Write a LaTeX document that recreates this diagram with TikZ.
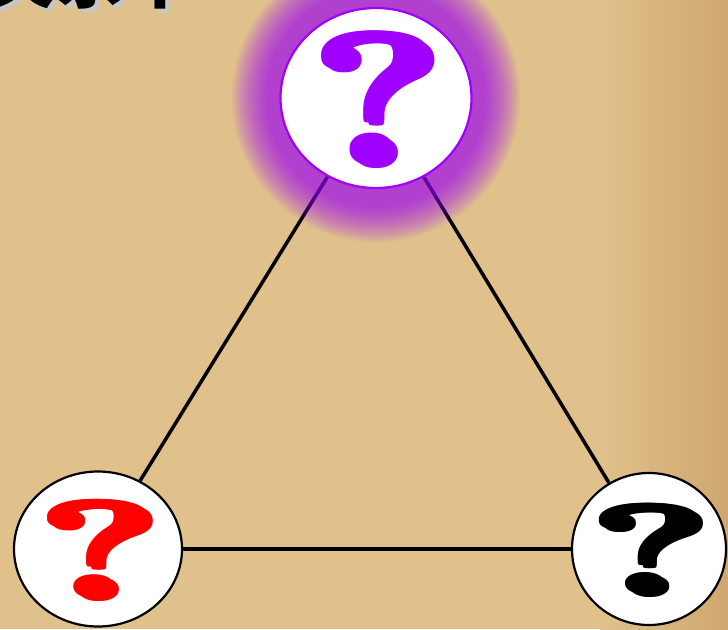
\documentclass[tikz,border=0pt]{standalone}
\usepackage{fontspec}
\usepackage{graphicx}
\newfontfamily\cjk{Noto Sans CJK SC}
\usetikzlibrary{shapes.geometric,backgrounds}

\definecolor{paper}{RGB}{224,193,139}
\definecolor{paperdark}{RGB}{207,166,112}
\definecolor{qpurple}{RGB}{160,0,255}
\definecolor{qred}{RGB}{255,0,0}

% text with a soft shadow below right
\newcommand\shadowed[2]{\rlap{\kern#2\raisebox{-#2}{\textcolor{black!22}{#1}}}#1}
% a heavier question mark
\newcommand\fatq{\rlap{?}\rlap{\kern.014em?}\rlap{\raisebox{.014em}{?}}\kern.014em\raisebox{.014em}{?}}
% big question mark: colour, width, height
\newcommand\qmark[3]{\makebox[0pt]{\smash{\raisebox{-0.5\height}{%
  \resizebox{#2}{#3}{\bfseries\shadowed{\textcolor{#1}{\fatq}}{0.02em}}}}}}

\begin{document}
\begin{tikzpicture}[x=1pt, y=-1pt,
      bubble/.style={
        % The shape:
        ellipse, inner sep=0pt, fill=white,
        % The rest
        line width=2.2pt, draw=black},
      link/.style={line width=3.5pt, black},
      title/.style={inner sep=0pt, font=\cjk\bfseries\fontsize{70}{70}\selectfont}]
    \useasboundingbox (0,0) rectangle (728,629);

    \node(ttl)[title, anchor=base west] at (-15,2) {\shadowed{关系中}{4pt}};

    \node(top)[bubble, draw=qpurple, minimum width=191pt, minimum height=180pt]
      at (376,98) {\qmark{qpurple}{140pt}{134pt}};
    \node(left)[bubble, minimum width=168pt, minimum height=155pt]
      at (98,549) {\qmark{qred}{130pt}{99pt}};
    \node(right)[bubble, minimum width=154pt, minimum height=152pt]
      at (649,549) {\qmark{black}{129pt}{91pt}};

    \begin{scope}[on background layer]
      \fill[paper] (0,0) rectangle (728,629);
      \shade[left color=paper, right color=paperdark] (600,0) rectangle (728,629);
      \path (top) edge[link] (left);
      \path (top) edge[link] (right);
      \path (left) edge[link] (right);
      % glow round the top one
      \foreach \r in {110,112,...,144}
        \fill[qpurple, opacity=0.055] (top.center) circle [radius=\r pt];
    \end{scope}
  \end{tikzpicture}
\end{document}
